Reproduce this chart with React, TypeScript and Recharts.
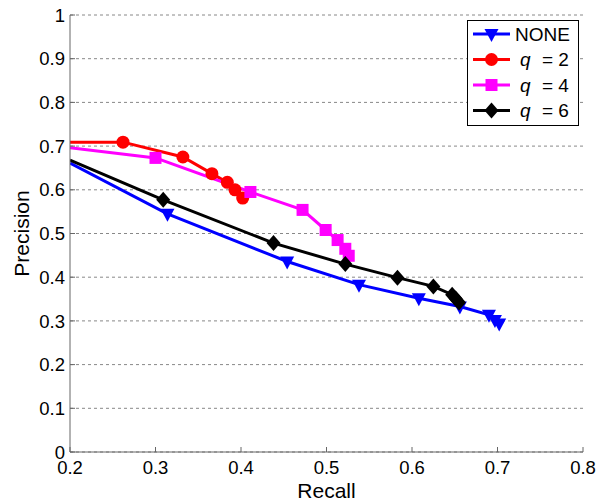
import React from 'react';
import { LineChart, Line, XAxis, YAxis, CartesianGrid } from 'recharts';

const FONT = '"Liberation Sans", Arial, sans-serif';

const xTicks = [0.2, 0.3, 0.4, 0.5, 0.6, 0.7, 0.8];
const yTicks = [0, 0.1, 0.2, 0.3, 0.4, 0.5, 0.6, 0.7, 0.8, 0.9, 1];

// recall / precision pairs per series (first point sits on the left edge, no marker)
const noneRecall = [0.2, 0.314, 0.454, 0.538, 0.608, 0.656, 0.69, 0.697, 0.702];
const nonePrecision = [0.661, 0.545, 0.436, 0.383, 0.352, 0.333, 0.314, 0.302, 0.294];

const q2Recall = [0.2, 0.262, 0.332, 0.366, 0.384, 0.393, 0.402];
const q2Precision = [0.709, 0.709, 0.675, 0.637, 0.617, 0.6, 0.581];

const q4Recall = [0.2, 0.3, 0.411, 0.472, 0.499, 0.513, 0.522, 0.526];
const q4Precision = [0.696, 0.673, 0.595, 0.554, 0.508, 0.485, 0.465, 0.449];

const q6Recall = [0.2, 0.309, 0.438, 0.522, 0.583, 0.625, 0.647, 0.651, 0.655];
const q6Precision = [0.668, 0.577, 0.478, 0.43, 0.399, 0.379, 0.36, 0.351, 0.342];

const zip = (r: number[], p: number[]) => r.map((v, i) => ({ r: v, p: p[i] }));

const COLORS = { none: '#0000FF', q2: '#FF0000', q4: '#FF00FF', q6: '#000000' };

const TICK_FONT = 18.5;
const X_MARGIN = 9;
const Y_MARGIN = 5;

type Shape = 'tri' | 'circle' | 'square' | 'diamond';

function Marker({ shape, cx, cy, color }: { shape: Shape; cx: number; cy: number; color: string }) {
  if (shape === 'tri') {
    return <path d={`M${cx - 7},${cy - 5} L${cx + 7},${cy - 5} L${cx},${cy + 8} Z`} fill={color} />;
  }
  if (shape === 'circle') return <circle cx={cx} cy={cy} r={6.5} fill={color} />;
  if (shape === 'square') return <rect x={cx - 6} y={cy - 6} width={12} height={12} fill={color} />;
  return <path d={`M${cx},${cy - 8} L${cx + 7},${cy} L${cx},${cy + 8} L${cx - 7},${cy} Z`} fill={color} />;
}

const makeDot = (shape: Shape, color: string) => (props: any) => {
  const { cx, cy, index } = props;
  if (index === 0 || cx == null || cy == null) return <g key={`d${index}`} />;
  return (
    <g key={`d${index}`}>
      <Marker shape={shape} cx={cx} cy={cy} color={color} />
    </g>
  );
};

const YTick = (props: any) => {
  const { x, y, payload } = props;
  const ax = x + Y_MARGIN;
  return (
    <g>
      <line x1={ax} x2={ax + 5} y1={y} y2={y} stroke="#666" strokeWidth={1} />
      <text x={x} y={y} dy="0.36em" textAnchor="end" fontSize={TICK_FONT} fontFamily={FONT} fill="#000">
        {String(payload.value)}
      </text>
    </g>
  );
};

const XTick = (props: any) => {
  const { x, y, payload } = props;
  const ay = y - X_MARGIN;
  return (
    <g>
      <line x1={x} x2={x} y1={ay} y2={ay - 5} stroke="#666" strokeWidth={1} />
      <text x={x} y={y} dy="0.72em" textAnchor="middle" fontSize={TICK_FONT} fontFamily={FONT} fill="#000">
        {String(payload.value)}
      </text>
    </g>
  );
};

const legendRows: { label: string; q: string | null; shape: Shape; color: string }[] = [
  { label: 'NONE', q: null, shape: 'tri', color: COLORS.none },
  { label: '= 2', q: 'q', shape: 'circle', color: COLORS.q2 },
  { label: '= 4', q: 'q', shape: 'square', color: COLORS.q4 },
  { label: '= 6', q: 'q', shape: 'diamond', color: COLORS.q6 },
];

const LegendBox = () => (
  <svg width={112} height={106} style={{ display: 'block' }}>
    <rect x={0.5} y={0.5} width={111} height={105} fill="#fff" stroke="#000" strokeWidth={1} />
    {legendRows.map((row, i) => {
      const cy = 14 + i * 25.5;
      return (
        <g key={row.label + i}>
          <line x1={6} x2={43} y1={cy} y2={cy} stroke={row.color} strokeWidth={3} />
          <Marker shape={row.shape} cx={24.5} cy={cy} color={row.color} />
          {row.q ? (
            <text y={cy} dy="0.36em" fontSize={19} fontFamily={FONT} fill="#000">
              <tspan x={53} fontStyle="italic">{row.q}</tspan>
              <tspan x={75}>{row.label}</tspan>
            </text>
          ) : (
            <text x={48} y={cy} dy="0.36em" fontSize={19} fontFamily={FONT} fill="#000">
              {row.label}
            </text>
          )}
        </g>
      );
    })}
  </svg>
);

export default function App() {
  return (
    <div style={{ position: 'absolute', left: 0, top: 0, width: 602, height: 504, background: '#fff' }}>
      <LineChart width={602} height={504} margin={{ top: 15, right: 19, bottom: 0, left: 0 }}>
        <CartesianGrid horizontal vertical={false} stroke="#888" strokeDasharray="3 3" />
        <XAxis
          dataKey="r"
          type="number"
          domain={[0.2, 0.8]}
          ticks={xTicks}
          allowDataOverflow
          height={52}
          stroke="#666"
          tickSize={0}
          tickMargin={X_MARGIN}
          tickLine={false}
          tick={<XTick />}
          interval={0}
          label={{ value: 'Recall', position: 'insideBottom', offset: 6, fontSize: 21, fontFamily: FONT, fill: '#000' }}
        />
        <YAxis
          type="number"
          domain={[0, 1]}
          ticks={yTicks}
          allowDataOverflow
          width={70}
          stroke="#666"
          tickSize={0}
          tickMargin={Y_MARGIN}
          tickLine={false}
          tick={<YTick />}
          interval={0}
          label={{ value: 'Precision', angle: -90, position: 'insideLeft', offset: 22, fontSize: 21, fontFamily: FONT, fill: '#000', style: { textAnchor: 'middle' } }}
        />
        <Line data={zip(noneRecall, nonePrecision)} dataKey="p" name="NONE" type="linear" stroke={COLORS.none} strokeWidth={3} dot={makeDot('tri', COLORS.none)} activeDot={false} isAnimationActive={false} />
        <Line data={zip(q2Recall, q2Precision)} dataKey="p" name="q = 2" type="linear" stroke={COLORS.q2} strokeWidth={3} dot={makeDot('circle', COLORS.q2)} activeDot={false} isAnimationActive={false} />
        <Line data={zip(q4Recall, q4Precision)} dataKey="p" name="q = 4" type="linear" stroke={COLORS.q4} strokeWidth={3} dot={makeDot('square', COLORS.q4)} activeDot={false} isAnimationActive={false} />
        <Line data={zip(q6Recall, q6Precision)} dataKey="p" name="q = 6" type="linear" stroke={COLORS.q6} strokeWidth={3} dot={makeDot('diamond', COLORS.q6)} activeDot={false} isAnimationActive={false} />
      </LineChart>
      <div style={{ position: 'absolute', left: 467, top: 20 }}>
        <LegendBox />
      </div>
    </div>
  );
}
